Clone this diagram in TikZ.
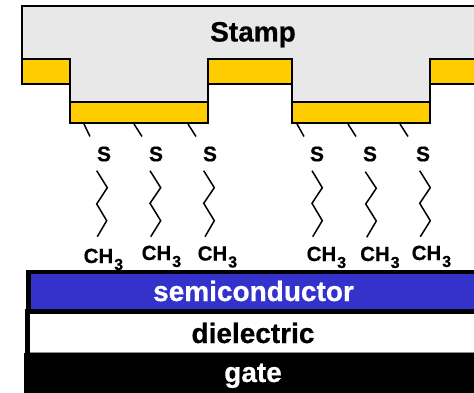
\documentclass[tikz,border=0pt]{standalone}
\usepackage{fontspec}
\setmainfont[BoldFeatures={FakeBold=0.6}]{Liberation Sans}
\definecolor{stampgray}{HTML}{E8E8E8}
\definecolor{goldy}{HTML}{FFCC00}
\definecolor{semiblue}{HTML}{3333CC}
\tikzset{
  outl/.style={draw=black,line width=2pt,line join=miter},
  gold/.style={outl,fill=goldy},
  chain/.style={draw=black,line width=1.5pt,line join=miter},
  tick/.style={draw=black,line width=1.5pt},
  sulfur/.style={inner sep=0pt,font=\fontsize{21}{21}\selectfont\bfseries},
  methyl/.style={inner sep=0pt,anchor=base west,font=\fontsize{20.5}{20}\selectfont\bfseries},
  sub/.style={inner sep=0pt,anchor=base west,font=\fontsize{16}{16}\selectfont\bfseries},
  layertext/.style={inner sep=0pt,anchor=base,font=\fontsize{28}{28}\selectfont\bfseries},
}
\newcommand{\methylat}[3]{%
  \node[methyl] (#1) at (#2,#3) {CH};
  \node[sub] (#1s) at (#2+30.5,#3+7) {3};
}
\begin{document}
\begin{tikzpicture}[x=1pt,y=-1pt]
\useasboundingbox (0,0) rectangle (474,393);
\clip (0,0) rectangle (474,393);
% stamp body
\draw[outl,fill=stampgray] (22,6.3) -- (480,6.3) -- (480,59) -- (430,59) -- (430,102) -- (292,102) -- (292,59) -- (208,59) -- (208,102) -- (70,102) -- (70,59) -- (22,59) -- cycle;
% gold layers
\draw[gold] (22,59) rectangle (70,84.5);
\draw[gold] (208,59) rectangle (292,84.5);
\draw[gold] (430,59) rectangle (480,84.5);
\draw[gold] (70,102.5) rectangle (208,123.5);
\draw[gold] (292,102.5) rectangle (430,123.5);
\node[layertext] (stamp) at (253,41.5) {Stamp};
% ticks
\foreach \xa/\xb in {84/90,134/142,188/196,297/304,348/356,400/408}
  \draw[tick] (\xa,124) -- (\xb,136.5);
% sulfur labels
\node[sulfur] (s1) at (104,154) {S};
\node[sulfur] (s2) at (156,154) {S};
\node[sulfur] (s3) at (210,154) {S};
\node[sulfur] (s4) at (317,154) {S};
\node[sulfur] (s5) at (370,154) {S};
\node[sulfur] (s6) at (423,154) {S};
% chains
\draw[chain] (96.7,170.7) -- (107.3,187.7) -- (96.7,204) -- (106.7,220.7) -- (97.3,236.7);
\draw[chain] (150,170.7) -- (160.7,187.7) -- (150,203.3) -- (160.7,220.7) -- (150.7,236.7);
\draw[chain] (203.7,170.7) -- (214.3,187.7) -- (203.7,203.3) -- (214.3,220.7) -- (205,236.7);
\draw[chain] (312,170.7) -- (322.3,187.7) -- (312,203.3) -- (322.3,220.7) -- (312.7,236.7);
\draw[chain] (365.3,171.7) -- (376.3,188.3) -- (365.7,204) -- (376.3,221) -- (366.7,237.3);
\draw[chain] (419.7,170.7) -- (430.3,187.7) -- (419.7,203.3) -- (430.3,220.7) -- (420.3,236.7);
% layers
\fill[black] (26,269.5) rectangle (480,314);
\fill[semiblue] (31,273.7) rectangle (480,309.3);
\fill[black] (25,309) rectangle (30,353);
\fill[white] (30,314) rectangle (480,352);
\fill[black!45] (30,352) rectangle (480,352.8);
\fill[black] (24,352.8) rectangle (480,393);
% CH3 labels
\methylat{m1}{83.5}{263}
\methylat{m2}{141.5}{260}
\methylat{m3}{197.5}{260.5}
\methylat{m4}{306.5}{261}
\methylat{m5}{360}{261}
\methylat{m6}{411.5}{260}
\node[layertext,text=white] (semi) at (253.5,301) {semiconductor};
\node[layertext,text=black] (diel) at (253,343) {dielectric};
\node[layertext,text=white] (gate) at (253,382) {gate};
\end{tikzpicture}
\end{document}
